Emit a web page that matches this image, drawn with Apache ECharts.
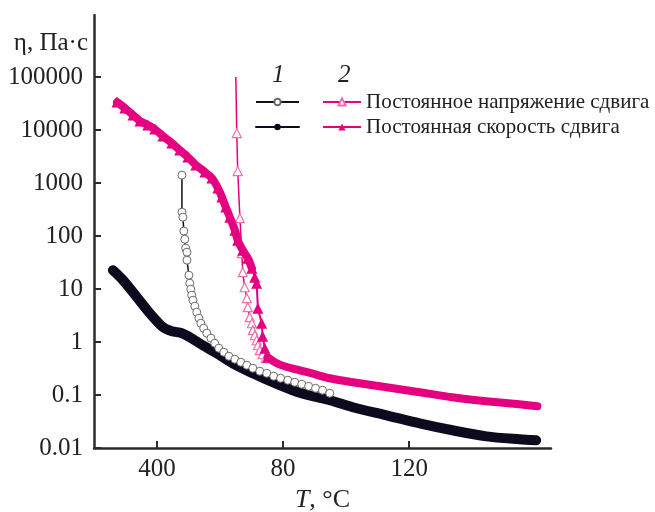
<!DOCTYPE html>
<html>
<head>
<meta charset="utf-8">
<script src="https://cdn.jsdelivr.net/npm/echarts@6/dist/echarts.min.js"></script>
<style>
  html, body { margin: 0; padding: 0; background: #fff; }
  #chart { width: 655px; height: 512px; }
</style>
</head>
<body>
<div id="chart"></div>
<script>
// Viscosity η (Pa·s) versus temperature T (°C), pairs of [T, η]

// 1: constant shear stress (open circles)
const stress1 = [
  [47.9, 1410], [47.9, 282], [48.2, 227], [48.5, 124], [48.8, 87], [49.1, 59],
  [49.5, 49.5], [49.5, 35], [50.1, 18.2], [50.4, 12.9], [50.7, 9.93], [51.0, 7.64],
  [51.4, 6.15], [52.0, 4.74], [52.6, 3.65], [53.3, 2.81], [53.9, 2.26], [54.8, 1.82],
  [55.8, 1.47], [57.1, 1.18], [58.3, 0.948], [59.6, 0.764], [61.2, 0.641], [62.8, 0.538],
  [64.7, 0.473], [66.6, 0.415], [68.5, 0.365], [70.4, 0.320], [72.6, 0.281], [74.8, 0.257],
  [77.0, 0.226], [79.2, 0.207], [81.5, 0.190], [83.7, 0.174], [85.9, 0.160], [88.1, 0.146],
  [90.3, 0.134], [92.5, 0.123], [94.8, 0.108]
];

// 1: constant shear rate (filled circles)
const rate1 = [
  [26.0, 22.7], [29.2, 14.7], [33.6, 7.01], [37.7, 3.49], [41.9, 1.90], [44.7, 1.60],
  [47.9, 1.47], [50.4, 1.23], [54.5, 0.869], [58.9, 0.614], [64.0, 0.397], [70.4, 0.257],
  [76.7, 0.174], [83.0, 0.123], [89.4, 0.0946], [94.8, 0.0796], [102.1, 0.0588],
  [112.8, 0.0414], [123.3, 0.0292], [133.7, 0.0216], [144.5, 0.0166], [155.0, 0.0146],
  [160.3, 0.0140]
];

// 2: constant shear stress (open triangles)
const stress2 = [
  [65.0, 100000], [65.3, 8750], [65.6, 1680], [66.3, 217], [66.9, 47.5], [67.2, 20.8],
  [67.8, 10.8], [68.5, 6.71], [68.8, 4.54], [69.4, 2.94], [70.1, 2.26], [70.4, 1.67],
  [71.0, 1.34], [71.6, 1.08], [72.0, 0.869], [72.6, 0.700], [73.5, 0.587], [74.5, 0.494]
];

// 2: constant shear rate (filled triangles)
const rate2 = [
  [27.3, 33700], [29.8, 25900], [32.4, 19100], [34.6, 14800], [37.1, 12400], [39.3, 10400],
  [41.9, 7690], [44.7, 5660], [47.2, 4180], [49.8, 3080], [52.3, 2180], [55.2, 1610],
  [57.4, 1240], [59.3, 802], [60.6, 542], [61.8, 351], [63.1, 227], [64.7, 129],
  [65.6, 83.5], [67.2, 54.1], [68.8, 38.2], [70.1, 24.7], [71.0, 16.7], [71.6, 12.9],
  [72.0, 4.35], [73.2, 2.26], [73.5, 1.29], [74.2, 0.764], [75.1, 0.516], [78.0, 0.397],
  [81.5, 0.334], [85.3, 0.293], [90.0, 0.247], [94.8, 0.207], [102.1, 0.174],
  [112.8, 0.140], [123.3, 0.113], [133.7, 0.0906], [144.5, 0.0762], [155.0, 0.0668],
  [160.7, 0.0612]
];

const yTicks = [0.01, 0.1, 1, 10, 100, 1000, 10000, 100000];
const xTicks = [40, 80, 120];
const xTickLabels = ['400', '80', '120'];

const seriesNames = ['Постоянное напряжение сдвига', 'Постоянная скорость сдвига'];

const PINK = '#e4007e';
const DARK = '#0c0a1c';
const AXIS = '#2b2b2b';
const FONT = '"Liberation Serif", "Times New Roman", serif';

// markers of the rate series stand apart only on the steep drop
const rate2Band = rate2.map(([t, v]) => (t > 70.1 && t < 75.1) ? [t, '-'] : [t, v]);

const chart = echarts.init(document.getElementById('chart'), null, { renderer: 'canvas' });

chart.setOption({
  animation: false,
  backgroundColor: '#fff',
  grid: { left: 94, right: 104, top: 15, bottom: 64, containLabel: false, outerBoundsMode: 'none' },
  xAxis: {
    type: 'value',
    min: 20,
    max: 165,
    name: '{i|T}{n|, °C}',
    nameLocation: 'middle',
    nameGap: 39,
    nameTextStyle: {
      rich: {
        i: { fontFamily: FONT, fontSize: 26, fontStyle: 'italic', color: '#222' },
        n: { fontFamily: FONT, fontSize: 26, color: '#222' }
      }
    },
    axisLine: { lineStyle: { color: AXIS, width: 2.5 } },
    axisTick: { inside: true, length: 7, lineStyle: { color: AXIS, width: 2 }, customValues: xTicks },
    axisLabel: {
      customValues: xTicks,
      margin: 9,
      fontFamily: FONT,
      fontSize: 25,
      color: '#222',
      formatter: v => {
        const i = xTicks.indexOf(v);
        return i >= 0 ? xTickLabels[i] : '';
      }
    },
    splitLine: { show: false }
  },
  yAxis: {
    type: 'log',
    logBase: 10,
    min: 0.01,
    max: 1480000,
    name: 'η, Па·с',
    nameLocation: 'end',
    nameGap: -28,
    nameTextStyle: {
      fontFamily: FONT, fontSize: 25, color: '#222',
      align: 'right', verticalAlign: 'middle', padding: [0, 6, 0, 0]
    },
    axisLine: { lineStyle: { color: AXIS, width: 2.5 } },
    axisTick: { inside: true, length: 7, lineStyle: { color: AXIS, width: 2 }, customValues: yTicks },
    axisLabel: {
      customValues: yTicks,
      margin: 11,
      fontFamily: FONT,
      fontSize: 25,
      color: '#222',
      formatter: v => String(v)
    },
    splitLine: { show: false }
  },
  legend: [
    {
      data: ['1 · ' + seriesNames[0], '1 · ' + seriesNames[1]],
      orient: 'vertical',
      left: 255,
      top: 89.5,
      padding: 0,
      itemWidth: 43,
      itemHeight: 8,
      itemGap: 0,
      selectedMode: false,
      formatter: () => ' ',
      textStyle: { fontFamily: FONT, fontSize: 21, lineHeight: 25 },
      lineStyle: { width: 2 }
    },
    {
      data: seriesNames,
      orient: 'vertical',
      left: 322,
      top: 89.5,
      padding: 0,
      itemWidth: 38,
      itemHeight: 9,
      itemGap: 0,
      selectedMode: false,
      textStyle: { fontFamily: FONT, fontSize: 21, lineHeight: 25, color: '#222' },
      lineStyle: { width: 2 }
    }
  ],
  graphic: [
    { type: 'text', left: 272, top: 63, style: { text: '1', fontFamily: FONT, fontSize: 25, fontStyle: 'italic', fill: '#222' } },
    { type: 'text', left: 338, top: 63, style: { text: '2', fontFamily: FONT, fontSize: 25, fontStyle: 'italic', fill: '#222' } }
  ],
  series: [
    {
      name: '1 · ' + seriesNames[1],
      type: 'line',
      data: rate1,
      smooth: 0.3,
      symbol: 'circle',
      showSymbol: false,
      itemStyle: { color: DARK },
      lineStyle: { color: DARK, width: 10, cap: 'round', join: 'round' },
      z: 2
    },
    {
      name: '1 · ' + seriesNames[0],
      type: 'line',
      data: stress1,
      symbol: 'circle',
      symbolSize: 8,
      itemStyle: { color: '#fff', borderColor: '#6a6a6a', borderWidth: 1 },
      lineStyle: { color: '#111', width: 1.5 },
      z: 3
    },
    {
      name: seriesNames[0],
      type: 'line',
      data: stress2.map((p, i) => i === 0 ? { value: p, symbol: 'none' } : p),
      symbol: 'triangle',
      symbolSize: 9,
      itemStyle: { color: '#fff', borderColor: '#ee6fae', borderWidth: 1.2 },
      lineStyle: { color: PINK, width: 1.5 },
      z: 4
    },
    {
      name: 'band',
      type: 'line',
      data: rate2Band,
      connectNulls: false,
      smooth: 0.2,
      showSymbol: false,
      lineStyle: { color: PINK, width: 8, cap: 'round', join: 'round' },
      z: 5
    },
    {
      name: seriesNames[1],
      type: 'line',
      data: rate2,
      symbol: 'triangle',
      symbolSize: v => (v[0] <= 75.1 ? 11 : 0),
      itemStyle: { color: PINK },
      lineStyle: { color: PINK, width: 2 },
      z: 6
    }
  ]
});
</script>
</body>
</html>
